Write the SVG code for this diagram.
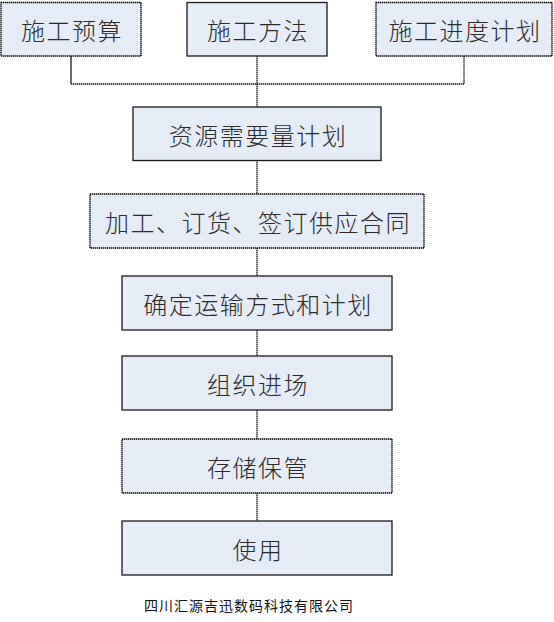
<svg xmlns="http://www.w3.org/2000/svg" width="554" height="622" viewBox="0 0 554 622">
<style>
.box{fill:#E6ECF6;stroke:#1a1a1a;stroke-width:1.3}
.dot{stroke:#000;stroke-dasharray:1.4 0.6}
.lbl{font-family:"Noto Sans CJK SC","Noto Sans CJK JP",sans-serif;font-size:24px;font-weight:300;fill:#2a2a2a;text-anchor:middle;dominant-baseline:central;letter-spacing:1.5px}
.ln{fill:none;stroke:#1a1a1a;stroke-width:1.3}
.foot{font-family:"Noto Sans CJK SC",sans-serif;font-size:14px;fill:#111;text-anchor:middle;dominant-baseline:central;letter-spacing:1px}
</style>
<rect width="554" height="622" fill="#fff"/>
<g id="connectors">
<path class="ln" d="M71,56V84"/>
<path class="ln dot" d="M71,84H464M464,56V84"/>
<path class="ln dot" d="M257,56V107M257,160V194M257,248V276M257,330V356M257,410V439M257,493V521"/>
</g>
<g id="n1"><rect class="box dot" x="1" y="2.5" width="140" height="53.5"/><text class="lbl" x="72" y="29">施工预算</text></g>
<g id="n2"><rect class="box" x="187" y="2.5" width="140" height="53.5"/><text class="lbl" x="258" y="29">施工方法</text></g>
<g id="n3"><rect class="box dot" x="376" y="2.5" width="176" height="53.5"/><text class="lbl" x="465" y="29">施工进度计划</text></g>
<g id="n4"><rect class="box" x="133" y="107" width="248" height="53.5"/><text class="lbl" x="258" y="134">资源需要量计划</text></g>
<g id="n5"><rect class="box dot" x="90" y="194" width="334" height="54"/><text class="lbl" x="258" y="221">加工、订货、签订供应合同</text></g>
<g id="n6"><rect class="box" x="122" y="276" width="270" height="54"/><text class="lbl" x="258" y="303">确定运输方式和计划</text></g>
<g id="n7"><rect class="box" x="122" y="356" width="270" height="54"/><text class="lbl" x="258" y="383">组织进场</text></g>
<g id="n8"><rect class="box dot" x="122" y="439" width="270" height="54"/><text class="lbl" x="258" y="466">存储保管</text></g>
<g id="n9"><rect class="box" x="122" y="521" width="270" height="54"/><text class="lbl" x="258" y="548">使用</text></g>
<text class="foot" x="249" y="605">四川汇源吉迅数码科技有限公司</text>
</svg>
